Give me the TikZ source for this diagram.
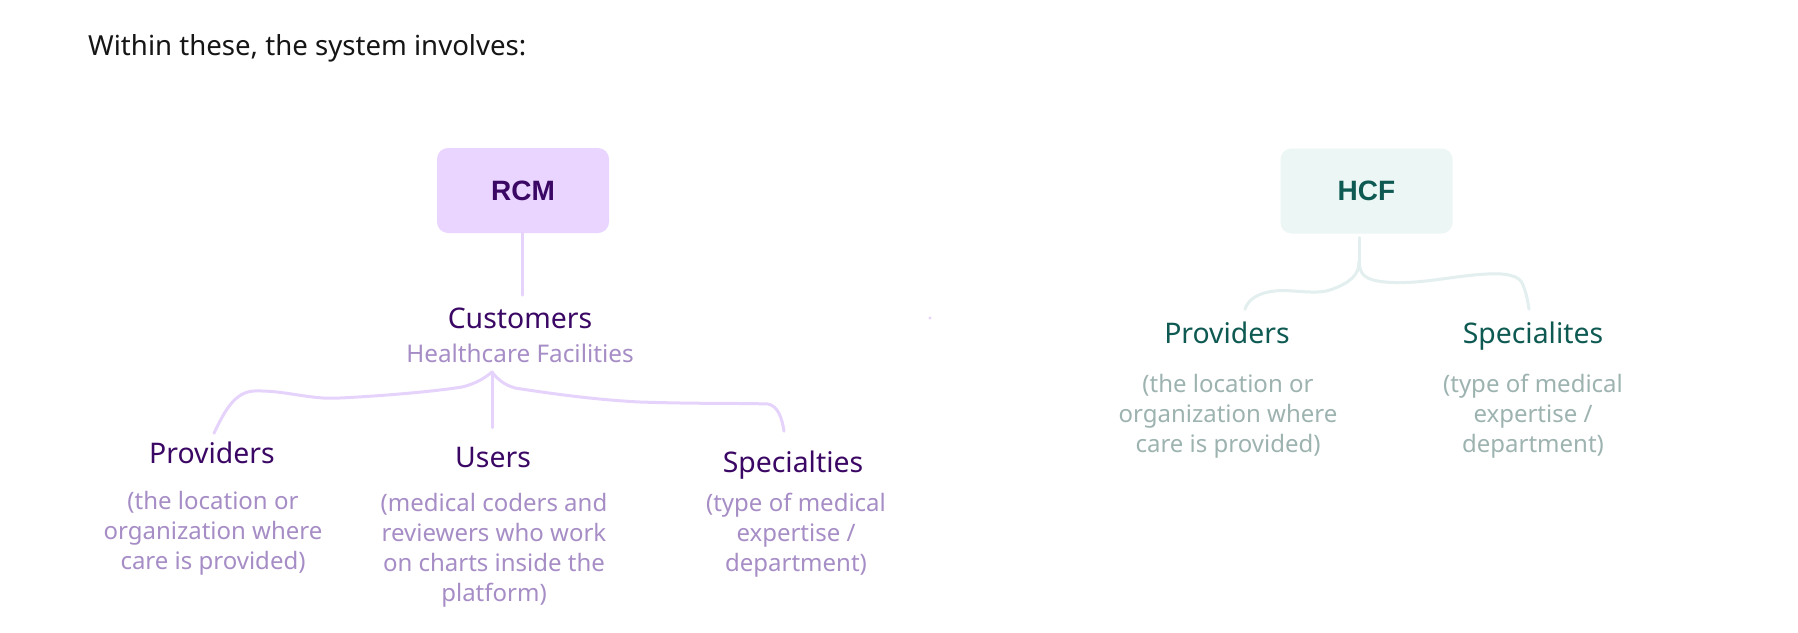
\documentclass[tikz,border=0pt]{standalone}
\usepackage{fontspec}
\setmainfont{Noto Sans}
\newfontfamily\boxfont{Liberation Sans}
\definecolor{pFill}{HTML}{E9D5FF}
\definecolor{pDark}{HTML}{3B0764}
\definecolor{pSoft}{HTML}{A68DC6}
\definecolor{pLine}{HTML}{E6D3FC}
\definecolor{tFill}{HTML}{EBF6F5}
\definecolor{tDark}{HTML}{0E5A52}
\definecolor{tSoft}{HTML}{9DB3B0}
\definecolor{tLine}{HTML}{E2EFEE}
\definecolor{ink}{HTML}{151515}
\tikzset{
  boxnode/.style={rounded corners=11pt, minimum width=172pt, minimum height=85pt, inner sep=0pt,
    font=\boxfont\bfseries\fontsize{28}{32}\selectfont},
  rcmbox/.style={boxnode, fill=pFill, text=pDark},
  hcfbox/.style={boxnode, fill=tFill, text=tDark},
  lbl/.style={anchor=base, inner sep=0pt, font=\fontsize{28.4}{32}\selectfont},
  plbl/.style={lbl, text=pDark},
  tlbl/.style={lbl, text=tDark},
  desc/.style={anchor=base, inner sep=0pt, align=center, font=\fontsize{24}{30}\selectfont},
  pdesc/.style={desc, text=pSoft},
  tdesc/.style={desc, text=tSoft},
  pconn/.style={draw=pLine, line width=3pt, line cap=round, line join=round},
  tconn/.style={draw=tLine, line width=3pt, line cap=round, line join=round},
}
\begin{document}
\begin{tikzpicture}[x=1pt,y=-1pt]
\useasboundingbox (0,0) rectangle (1798,632);
\fill[white] (0,0) rectangle (1798,632);

\node[anchor=base west, inner sep=0pt, text=ink, font=\fontsize{27.6}{32}\selectfont] (title) at (88,55) {Within these, the system involves:};

% ---------- RCM ----------
\node[rcmbox] (rcm) at (523,190.5) {RCM};
\node[plbl] (cust) at (520,328) {Customers};
\node[anchor=base, inner sep=0pt, text=pSoft, font=\fontsize{24.3}{30}\selectfont] (hf) at (520,362) {Healthcare Facilities};
\coordinate (j1) at (492,372);

\node[plbl] (prov) at (212,463) {Providers};
\node[plbl] (users) at (493,467) {Users};
\node[plbl] (spec) at (793,472) {Specialties};

% multi-line nodes: base = last line baseline
\node[pdesc] (provd) at (213,569) {(the location or\\organization where\\care is provided)};
\node[pdesc] (usersd) at (494,601) {(medical coders and\\reviewers who work\\on charts inside the\\platform)};
\node[pdesc] (specd) at (796,571) {(type of medical\\expertise /\\department)};

\path[pconn] (rcm.south -| 522,0) -- ([yshift=12pt]cust.north -| 522,0);
\path[pconn] (j1) .. controls (485,378) and (475,384) .. (462,387)
  .. controls (430,392) and (380,396) .. (340,398)
  .. controls (310,400) and (285,390) .. (254,391)
  .. controls (235,392) and (225,410) .. ([yshift=8pt]prov.north west -| 214,0);
\path[pconn] (j1) -- ([yshift=19pt]users.north -| j1);
\path[pconn] (j1) .. controls (498,380) and (505,385) .. (515,388)
  .. controls (560,395) and (600,400) .. (640,402)
  .. controls (700,404) and (740,403) .. (768,404)
  .. controls (778,406) and (782,418) .. ([yshift=19pt]spec.north -| 784,0);

% ---------- HCF ----------
\node[hcfbox] (hcf) at (1366.5,191) {HCF};
\node[tlbl] (tprov) at (1227,343) {Providers};
\node[tlbl] (tspec) at (1533,343) {Specialites};
\node[tdesc] (tprovd) at (1228,452) {(the location or\\organization where\\care is provided)};
\node[tdesc] (tspecd) at (1533,452) {(type of medical\\expertise /\\department)};
\coordinate (j2) at (1359,262);

\path[tconn] ([yshift=-4pt]hcf.south -| j2) -- (j2);
\path[tconn] (j2) .. controls (1359,275) and (1350,283) .. (1330,290)
  .. controls (1315,295) and (1290,289) .. (1275,291)
  .. controls (1255,293) and (1247,302) .. ([yshift=12pt]tprov.north -| 1245,0);
\path[tconn] (j2) .. controls (1360,275) and (1365,280) .. (1385,282)
  .. controls (1420,285) and (1450,276) .. (1487,274)
  .. controls (1505,273) and (1520,275) .. (1523,285)
  .. controls (1527,295) and (1528,303) .. ([yshift=12pt]tspec.north -| 1529,0);

% tiny stray dot
\fill[pLine] (930,318) circle (1.6pt);
\end{tikzpicture}
\end{document}
